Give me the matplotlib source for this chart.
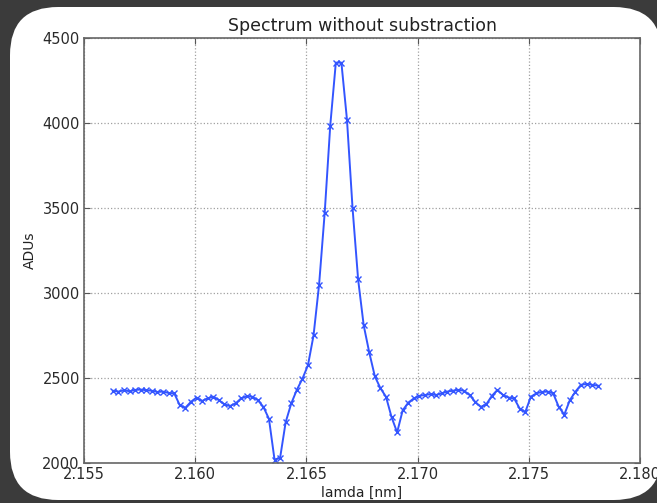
import numpy as np
import matplotlib
matplotlib.use("Agg")
import matplotlib.pyplot as plt
from matplotlib.patches import FancyBboxPatch
from matplotlib.transforms import IdentityTransform

# wavelength samples (nm), evenly spaced instrument grid
lam_start, lam_stop, n_samples = 2.1563, 2.1781, 88
lamda = np.linspace(lam_start, lam_stop, n_samples)

adus = [
    2425, 2420, 2428, 2422, 2430, 2432, 2428, 2425, 2418, 2420,
    2412, 2410, 2340, 2325, 2360, 2385, 2365, 2380, 2390, 2370,
    2345, 2335, 2350, 2380, 2392, 2390, 2370, 2330, 2260, 2020,
    2030, 2240, 2350, 2430, 2495, 2575, 2750, 3050, 3470, 3985,
    4355, 4355, 4020, 3500, 3080, 2810, 2650, 2510, 2440, 2390,
    2270, 2180, 2310, 2355, 2380, 2395, 2400, 2405, 2400, 2410,
    2420, 2425, 2430, 2425, 2400, 2360, 2330, 2345, 2395, 2430,
    2400, 2385, 2380, 2320, 2300, 2390, 2410, 2418, 2420, 2410,
    2330, 2285, 2370, 2420, 2460, 2465, 2460, 2455,
]

xticks = [2.155, 2.160, 2.165, 2.170, 2.175, 2.180]
yticks = [2000, 2500, 3000, 3500, 4000, 4500]

W, H = 657, 503
fig = plt.figure(figsize=(W / 100, H / 100), dpi=100)
fig.patch.set_facecolor("#3b3b3b")

# rounded white card
card = FancyBboxPatch((10, H - 500), 652, 493,
                      boxstyle="round,pad=0,rounding_size=48",
                      transform=IdentityTransform(), facecolor="white",
                      edgecolor="none", zorder=-5)
fig.patches.append(card)

ax = fig.add_axes([84 / W, 1 - 463 / H, (640 - 84) / W, (463 - 38) / H])
ax.set_zorder(2)
ax.set_facecolor("white")
ax.plot(lamda, adus, color="#3355ff", linestyle="-", marker="x",
        markersize=5, linewidth=1.4, markeredgewidth=1.0)

ax.set_xlim(2.155, 2.180)
ax.set_ylim(2000, 4500)
ax.set_xticks(xticks)
ax.set_xticklabels([f"{t:.3f}" for t in xticks])
ax.set_yticks(yticks)
ax.grid(True, linestyle=":", color="#a0a0a0", linewidth=0.9)
ax.tick_params(direction="in", length=4, color="#555555", labelsize=10.5,
               labelcolor="#2a2a2a", pad=3, top=True, right=True)
for s in ax.spines.values():
    s.set_color("#666666")
    s.set_linewidth(1.2)

ax.set_title("Spectrum without substraction", fontsize=12.5, color="#222222", pad=5)
ax.set_xlabel("lamda [nm]", fontsize=10, color="#222222", labelpad=3)
ax.set_ylabel("ADUs", fontsize=10, color="#222222", labelpad=4)

fig.savefig("out.png", dpi=100, facecolor=fig.get_facecolor())
